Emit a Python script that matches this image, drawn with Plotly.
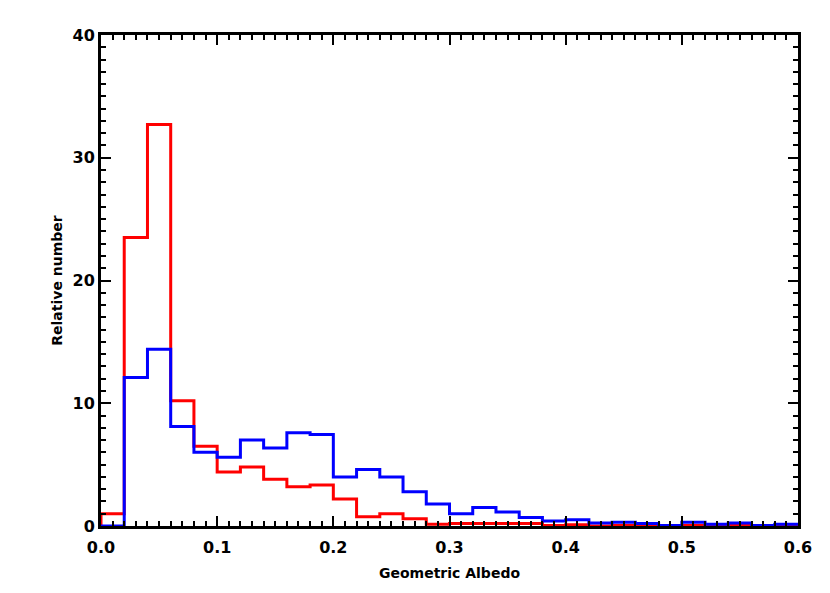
import numpy as np
import plotly.graph_objects as go

bin_width = 0.02
bin_start = 0.0

red_values = [1.0, 23.5, 32.7, 10.2, 6.5, 4.4, 4.8, 3.8, 3.2, 3.35,
              2.2, 0.75, 1.0, 0.6, 0.15, 0.2, 0.2, 0.2, 0.2, 0.05,
              0.1, 0.0, 0.05, 0.0, 0.0, 0.05, 0.0, 0.05, 0.0, 0.0]
blue_values = [0.0, 12.1, 14.4, 8.1, 6.0, 5.6, 7.0, 6.35, 7.6, 7.45,
               4.0, 4.6, 4.0, 2.8, 1.8, 1.0, 1.5, 1.15, 0.7, 0.4,
               0.5, 0.25, 0.3, 0.2, 0.05, 0.3, 0.15, 0.25, 0.05, 0.15]

x_title = "Geometric Albedo"
y_title = "Relative number"

def step_xy(values, start_at_zero=False):
    n = len(values)
    edges = bin_start + bin_width * np.arange(n + 1)
    ys = list(values) + [values[-1]]
    xs = list(edges)
    if start_at_zero:
        xs = [edges[0]] + xs
        ys = [0.0] + ys
    return xs, ys

FONT = "DejaVu Sans, Liberation Sans, Arial, sans-serif"

fig = go.Figure()
bx, by = step_xy(blue_values)
rx, ry = step_xy(red_values, start_at_zero=True)
fig.add_trace(go.Scatter(x=rx, y=ry, mode="lines", line=dict(color="#ff0000", width=3, shape="hv"),
                         showlegend=False))
fig.add_trace(go.Scatter(x=bx, y=by, mode="lines", line=dict(color="#0000ff", width=3, shape="hv"),
                         showlegend=False))

axis_common = dict(showline=True, linecolor="black", linewidth=3, mirror="allticks",
                   ticks="inside", tickcolor="black", tickwidth=2, ticklen=10,
                   showgrid=False, zeroline=False,
                   tickfont=dict(family=FONT, size=16, color="black", weight="bold"))

fig.update_xaxes(range=[0, 0.6], dtick=0.1, tick0=0, tickformat=".1f",
                 ticklabelstandoff=5,
                 minor=dict(dtick=0.01, ticks="inside", ticklen=5, tickwidth=2, tickcolor="black"),
                 title=dict(text=x_title, standoff=12,
                            font=dict(family=FONT, size=14, color="black", weight="bold")),
                 **axis_common)
fig.update_yaxes(range=[0, 40], dtick=10, tick0=0,
                 minor=dict(dtick=1, ticks="inside", ticklen=5, tickwidth=2, tickcolor="black"),
                 title=dict(text=y_title, standoff=7,
                            font=dict(family=FONT, size=14, color="black", weight="bold")),
                 **axis_common)

fig.update_layout(width=822, height=585, margin=dict(l=93, r=32, t=27, b=67),
                  plot_bgcolor="white", paper_bgcolor="white")

fig.write_html("out.html")
